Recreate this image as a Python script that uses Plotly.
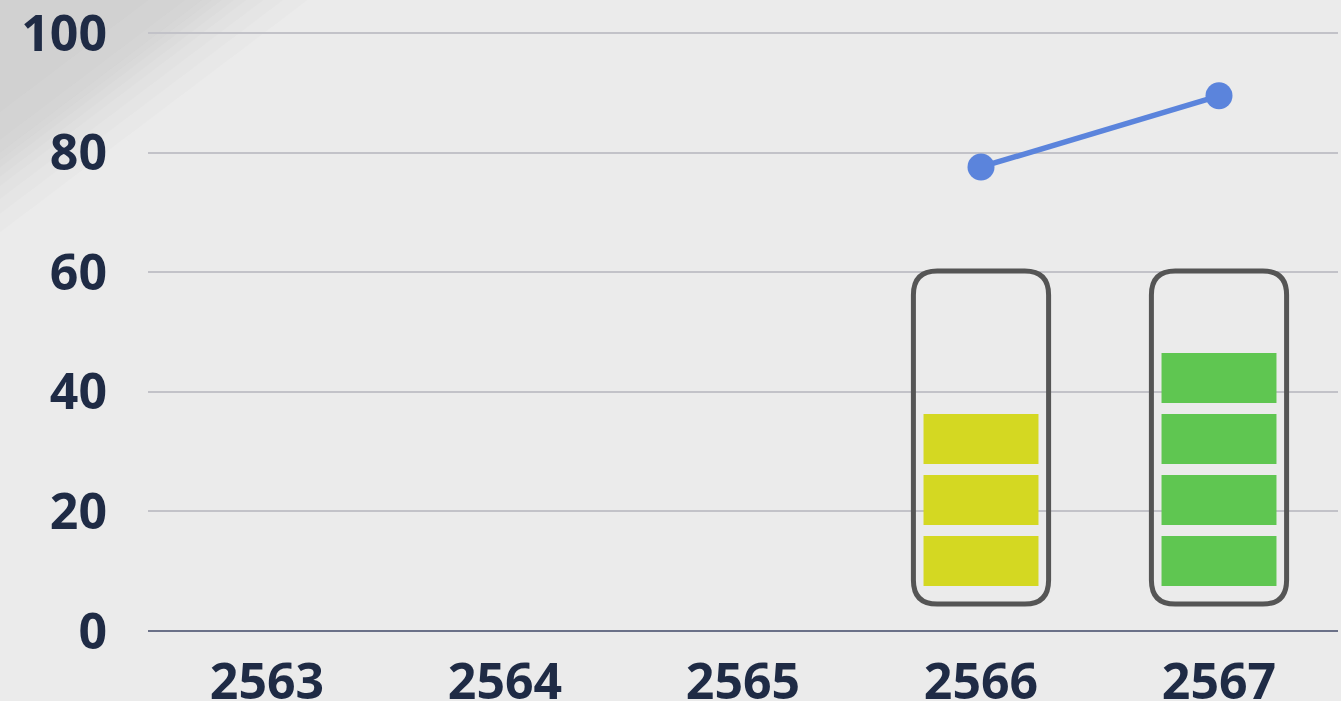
import plotly.graph_objects as go

# ---- data ----
years = ["2563", "2564", "2565", "2566", "2567"]
line_values = [None, None, None, 77.6, 89.5]
battery_blocks = [0, 0, 0, 3, 4]          # filled segments per battery
battery_colors = ["#d4d822", "#d4d822", "#d4d822", "#d4d822", "#5fc651"]
y_ticks = [0, 20, 40, 60, 80, 100]

# ---- styling constants ----
BLOCK_START = 7.53
BLOCK_H = 8.36
BLOCK_GAP = 1.84
BLOCK_W = 0.483
SHELL_HALF_W = 0.284
SHELL_BOTTOM = 4.5
SHELL_TOP = 60.2
RX, RY = 0.10, 4.0
TXT = "#1f2b45"
FONT = "Open Sans"

W, H = 1341, 701
ML, MR, MT, MB = 148, 3, 31, 70
PW, PH = W - ML - MR, H - MT - MB

x_idx = list(range(len(years)))
fig = go.Figure()

max_blocks = max(battery_blocks)
for k in range(max_blocks):
    xs, bases, hs, cols = [], [], [], []
    for i, n in enumerate(battery_blocks):
        if n > k:
            xs.append(i)
            bases.append(BLOCK_START + k * (BLOCK_H + BLOCK_GAP))
            hs.append(BLOCK_H)
            cols.append(battery_colors[i])
    fig.add_trace(go.Bar(x=xs, y=hs, base=bases, width=BLOCK_W,
                         marker=dict(color=cols, line=dict(width=0)),
                         showlegend=False, hoverinfo="skip"))

fig.add_trace(go.Scatter(x=x_idx, y=line_values, mode="lines+markers",
                         line=dict(color="#5b84dc", width=5.5),
                         marker=dict(size=27, color="#5b84dc"),
                         showlegend=False, connectgaps=False))


def px2paper(px, py):
    return (px - ML) / PW, (H - MB - py) / PH


shapes = []
# soft corner shading (top-left), layered triangles in pixel terms
for f in [1.35, 1.25, 1.17, 1.1, 1.05, 1.0, 0.96, 0.92, 0.85, 0.7]:
    ax, ay = px2paper(-10, -10)
    bx, by = px2paper(-10 + 245 * f, -10)
    cx, cy = px2paper(-10, -10 + 185 * f)
    shapes.append(dict(type="path", xref="paper", yref="paper",
                       path=f"M {ax} {ay} L {bx} {by} L {cx} {cy} Z",
                       fillcolor="rgba(130,130,130,0.028)", line=dict(width=0),
                       layer="below"))

for i, n in enumerate(battery_blocks):
    if n == 0:
        continue
    x0, x1 = i - SHELL_HALF_W, i + SHELL_HALF_W
    y0, y1 = SHELL_BOTTOM, SHELL_TOP
    p = (f"M {x0+RX} {y0} L {x1-RX} {y0} Q {x1} {y0} {x1} {y0+RY} "
         f"L {x1} {y1-RY} Q {x1} {y1} {x1-RX} {y1} "
         f"L {x0+RX} {y1} Q {x0} {y1} {x0} {y1-RY} "
         f"L {x0} {y0+RY} Q {x0} {y0} {x0+RX} {y0} Z")
    shapes.append(dict(type="path", xref="x", yref="y", path=p,
                       line=dict(color="#555555", width=5), fillcolor="rgba(0,0,0,0)",
                       layer="above"))

fig.update_layout(
    width=W, height=H,
    margin=dict(l=ML, r=MR, t=MT, b=MB, autoexpand=False),
    paper_bgcolor="#ebebeb", plot_bgcolor="rgba(0,0,0,0)",
    barmode="overlay",
    shapes=shapes,
    xaxis=dict(range=[-0.5, 4.5], tickvals=x_idx, ticktext=years,
               showgrid=False, zeroline=False, showline=False, ticks="",
               tickfont=dict(family=FONT, size=50, color=TXT, weight="bold"),
               ticklabelstandoff=17, ticklabeloverflow="allow",
               automargin=False, fixedrange=True),
    yaxis=dict(range=[0, 100.34], tickvals=y_ticks, showgrid=True,
               gridcolor="#c2c2c8", gridwidth=1.5, zeroline=True,
               zerolinecolor="#6b7188", zerolinewidth=1.5, showline=False, ticks="",
               tickfont=dict(family=FONT, size=50, color=TXT, weight="bold"),
               ticklabelstandoff=40, ticklabeloverflow="allow",
               automargin=False, fixedrange=True),
    font=dict(family=FONT, color=TXT),
)

fig.write_html("out.html", config={"displayModeBar": False},
               post_script="document.body.style.margin='0';document.body.style.overflow='hidden';")
